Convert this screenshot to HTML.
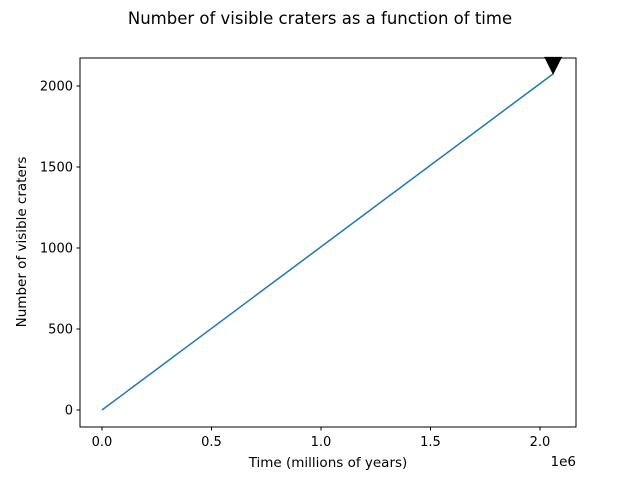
<!DOCTYPE html>
<html><head><meta charset="utf-8"><style>
body{margin:0;background:#fff;font-family:"Liberation Sans","DejaVu Sans",sans-serif;}
svg text{font-family:"DejaVu Sans","Liberation Sans",sans-serif;}
</style></head><body>
<svg id="chart" width="640" height="480">
<rect width="640" height="480" fill="#fff"/>
<text x="320" y="24" text-anchor="middle" font-size="16.5">Number of visible craters as a function of time</text>
<g id="plot"></g>
<rect x="80" y="58" width="496" height="369" fill="none" stroke="#000" stroke-width="1"/>
<text x="328" y="467" text-anchor="middle" font-size="13.5">Time (millions of years)</text>
<text x="576" y="466" text-anchor="end" font-size="13.5">1e6</text>
<text transform="translate(26,242) rotate(-90)" text-anchor="middle" font-size="13.5">Number of visible craters</text>
</svg>
<script>
const timeValues=[0,2060000];
const craterValues=[0,2075];
const xTicks=[0,500000,1000000,1500000,2000000];
const xTickLabels=["0.0","0.5","1.0","1.5","2.0"];
const yTicks=[0,500,1000,1500,2000];
const yTickLabels=["0","500","1000","1500","2000"];
const NS="http://www.w3.org/2000/svg";
const X=v=>102+v*219/1e6;
const Y=v=>410-v*0.162;
const g=document.getElementById('plot');
function mk(t,a){const e=document.createElementNS(NS,t);for(const k in a)e.setAttribute(k,a[k]);g.appendChild(e);return e;}
xTicks.forEach((v,i)=>{
 const l=mk('line',{x1:X(v),x2:X(v),y1:427,y2:430.5,stroke:'#000'});
 
 
 const t=mk('text',{x:X(v),y:446,'text-anchor':'middle','font-size':13});
 t.textContent=xTickLabels[i];
 
 
});
yTicks.forEach((v,i)=>{
 const l=mk('line',{x1:76.5,x2:80,y1:Y(v),y2:Y(v),stroke:'#000'});
 
 
 const t=mk('text',{x:73,y:Y(v)+4.5,'text-anchor':'end','font-size':13});
 t.textContent=yTickLabels[i];
 
 
});
const pts=timeValues.map((v,i)=>X(v)+','+Y(craterValues[i])).join(' ');
const line=mk('polyline',{points:pts,fill:'none',stroke:'#1f77b4','stroke-width':1.5});


const n=timeValues.length-1,cx=X(timeValues[n]),cy=Y(craterValues[n]);
const m=mk('polygon',{points:`${cx-9},${cy-17} ${cx+9},${cy-17} ${cx},${cy+1}`,fill:'#000'});


</script>
</body></html>
